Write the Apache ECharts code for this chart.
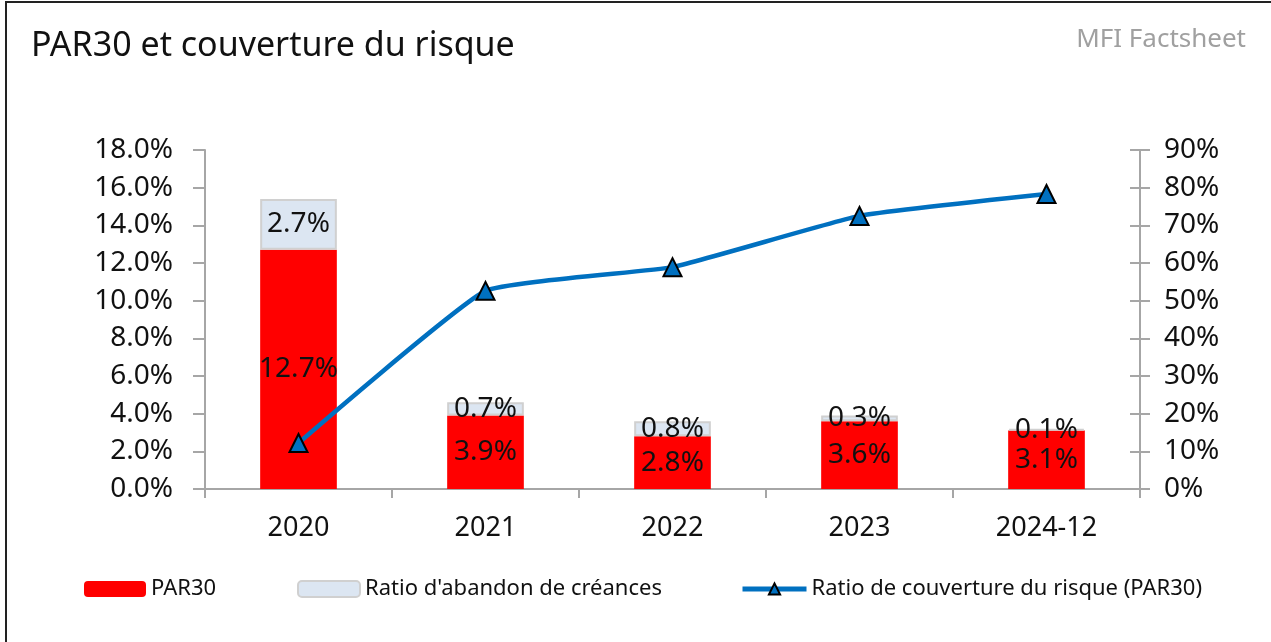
<!DOCTYPE html>
<html lang="fr">
<head>
    <meta charset="UTF-8">
    <title>PAR30 et couverture du risque</title>
    <script src="https://cdn.jsdelivr.net/npm/echarts@6.0.0/dist/echarts.min.js"></script>
    <style>
        * {
            margin: 0;
            padding: 0;
            box-sizing: border-box;
        }

        body {
            background: #ffffff;
            font-family: 'Noto Sans', sans-serif;
        }

        .frame {
            position: absolute;
            left: 5px;
            top: 1px;
            width: 1266px;
            height: 641px;
            border-left: 2px solid #222;
            border-top: 2px solid #222;
        }

        #chart {
            position: absolute;
            left: 0;
            top: 0;
            width: 1271px;
            height: 642px;
        }
    </style>
</head>
<body>
    <div class="frame"></div>
    <div id="chart"></div>

    <script>
        // données
        const categories = ['2020', '2021', '2022', '2023', '2024-12'];
        const par30 = [12.7, 3.9, 2.8, 3.6, 3.1];
        const abandon = [2.7, 0.7, 0.8, 0.3, 0.1];
        const couverture = [12.2, 52.6, 58.9, 72.5, 78.3];
        const leftTicks = { min: 0, max: 18, interval: 2 };
        const rightTicks = { min: 0, max: 90, interval: 10 };

        const font = 'Noto Sans';
        const axisGray = '#a6a6a6';

        const chart = echarts.init(document.getElementById('chart'));
        chart.setOption({
            animation: false,
            textStyle: { fontFamily: font },
            title: [
                {
                    text: 'PAR30 et couverture du risque',
                    left: 26,
                    top: 24,
                    textStyle: { fontFamily: font, fontSize: 34, fontWeight: 'normal', color: '#111' }
                },
                {
                    text: 'MFI Factsheet',
                    right: 20,
                    top: 22,
                    textStyle: { fontFamily: font, fontSize: 26, fontWeight: 'normal', color: '#a0a0a0' }
                }
            ],
            legend: [
                {
                    data: ['PAR30'],
                    left: 84, top: 578, padding: 0,
                    itemWidth: 62, itemHeight: 16,
                    textStyle: { fontFamily: font, fontSize: 22, color: '#111' }
                },
                {
                    data: ["Ratio d'abandon de créances"],
                    left: 297, top: 578, padding: 0,
                    itemWidth: 62, itemHeight: 16,
                    textStyle: { fontFamily: font, fontSize: 22, color: '#111' }
                },
                {
                    data: ['Ratio de couverture du risque (PAR30)'],
                    left: 740, top: 578, padding: 0,
                    itemWidth: 64, itemHeight: 14,
                    lineStyle: { width: 5 },
                    textStyle: { fontFamily: font, fontSize: 22, color: '#111' }
                }
            ],
            grid: {
                left: 205,
                right: 131,
                top: 150,
                bottom: 153
            },
            xAxis: {
                type: 'category',
                data: categories,
                axisLine: { lineStyle: { color: axisGray, width: 2 } },
                axisTick: { show: true, length: 9, lineStyle: { color: axisGray, width: 2 } },
                axisLabel: { fontSize: 27, color: '#111', margin: 26 }
            },
            yAxis: [
                {
                    type: 'value',
                    min: leftTicks.min, max: leftTicks.max, interval: leftTicks.interval,
                    axisLine: { show: true, lineStyle: { color: axisGray, width: 2 } },
                    axisTick: { show: true, length: 12, lineStyle: { color: axisGray, width: 2 } },
                    axisLabel: { fontSize: 28, color: '#111', margin: 32, formatter: v => v.toFixed(1) + '%' },
                    splitLine: { show: false }
                },
                {
                    type: 'value',
                    position: 'right',
                    min: rightTicks.min, max: rightTicks.max, interval: rightTicks.interval,
                    axisLine: { show: true, lineStyle: { color: axisGray, width: 2 } },
                    axisTick: { show: true, length: 10, lineStyle: { color: axisGray, width: 2 } },
                    axisLabel: { fontSize: 28, color: '#111', margin: 24, formatter: '{value}%' },
                    splitLine: { show: false }
                },
                {
                    // partie intérieure des graduations de droite
                    type: 'value',
                    position: 'right',
                    min: rightTicks.min, max: rightTicks.max, interval: rightTicks.interval,
                    axisLine: { show: false },
                    axisTick: { show: true, inside: true, length: 10, lineStyle: { color: axisGray, width: 2 } },
                    axisLabel: { show: false },
                    splitLine: { show: false }
                }
            ],
            series: [
                {
                    name: 'PAR30',
                    type: 'bar',
                    stack: 'risque',
                    barWidth: '41%',
                    data: par30,
                    itemStyle: { color: '#ff0000' },
                    label: {
                        show: true,
                        position: 'inside',
                        fontSize: 28,
                        color: '#111',
                        formatter: p => p.value.toFixed(1) + '%'
                    }
                },
                {
                    name: "Ratio d'abandon de créances",
                    type: 'bar',
                    stack: 'risque',
                    data: abandon,
                    itemStyle: { color: '#dce6f2', borderColor: '#d0d0d0', borderWidth: 2 },
                    label: {
                        show: true,
                        position: 'inside',
                        fontSize: 28,
                        color: '#111',
                        formatter: p => p.value.toFixed(1) + '%'
                    }
                },
                {
                    name: 'Ratio de couverture du risque (PAR30)',
                    type: 'line',
                    yAxisIndex: 1,
                    data: couverture,
                    smooth: 0.12,
                    symbol: 'triangle',
                    symbolSize: 18,
                    lineStyle: { color: '#0070c0', width: 4.5 },
                    itemStyle: { color: '#0070c0', borderColor: '#000', borderWidth: 2 },
                    z: 5
                }
            ]
        });
    </script>
</body>
</html>
